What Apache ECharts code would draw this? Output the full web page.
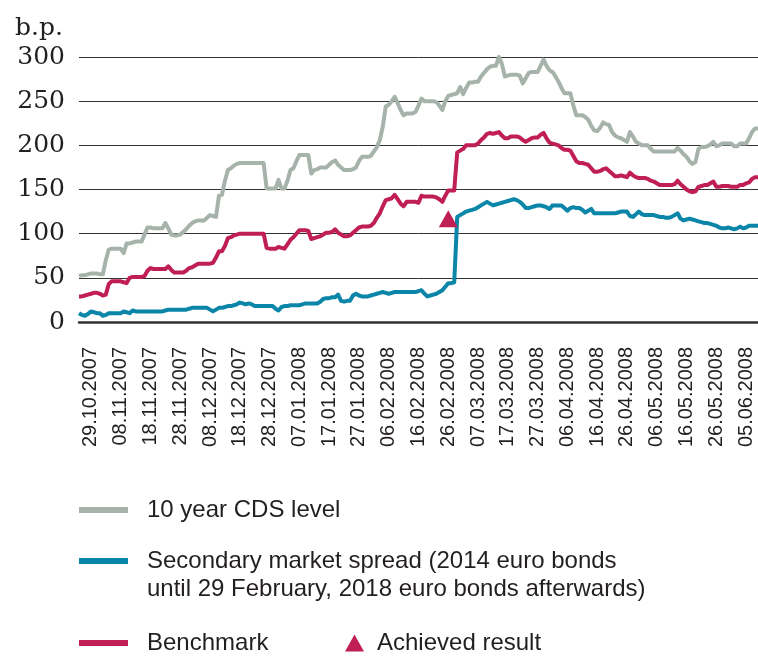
<!DOCTYPE html>
<html>
<head>
<meta charset="utf-8">
<script src="https://cdn.jsdelivr.net/npm/echarts@6/dist/echarts.min.js"></script>
<style>html,body{margin:0;padding:0;background:#fff}#c{width:758px;height:656px}</style>
</head>
<body>
<div id="c"></div>
<script>
// Daily categories from 25.10.2007 to 09.06.2008 (229 days)
const startDate = [2007, 9, 25];
const dayCount = 229;
const tickLabels = ['29.10.2007','08.11.2007','18.11.2007','28.11.2007','08.12.2007','18.12.2007','28.12.2007',
  '07.01.2008','17.01.2008','27.01.2008','06.02.2008','16.02.2008','26.02.2008','07.03.2008','17.03.2008',
  '27.03.2008','06.04.2008','16.04.2008','26.04.2008','06.05.2008','16.05.2008','26.05.2008','05.06.2008'];
const yTicks = [0, 50, 100, 150, 200, 250, 300];

const cdsLevel = [
  52,53,53,54,55,55,55,54,54,70,
  82,83,83,83,83,78,89,89,90,91,
  91,91,99,107,107,106,106,106,106,112,
  106,99,98,98,99,102,105,109,112,114,
  115,115,115,118,121,120,119,143,144,160,
  172,174,177,179,180,180,180,180,180,180,
  180,180,180,151,151,151,151,161,151,151,
  160,172,174,182,189,189,189,189,168,172,
  173,175,175,175,178,181,183,178,175,172,
  172,172,173,175,182,187,187,187,188,193,
  198,206,221,244,246,250,255,248,240,234,
  236,236,236,238,245,253,250,250,250,250,
  249,245,240,250,256,257,258,259,266,258,
  265,271,271,272,272,278,282,286,289,290,
  290,300,292,278,279,280,280,280,279,270,
  276,282,283,283,283,290,297,290,285,283,
  278,272,265,259,259,259,245,234,234,234,
  232,229,222,217,216,220,226,224,223,215,
  211,209,208,206,204,215,210,204,202,200,
  200,200,196,193,193,193,193,193,193,193,
  193,197,194,190,187,182,179,181,196,198,
  198,199,201,204,199,200,202,202,202,202,
  199,199,202,202,202,208,215,219,219
];
const benchmark = [
  29,29,30,31,32,33,33,32,30,31,
  43,46,46,46,46,45,44,50,51,51,
  51,51,52,58,61,60,60,60,60,60,
  63,59,56,56,56,56,58,61,62,64,
  66,66,66,66,66,67,73,80,80,86,
  95,96,98,99,100,100,100,100,100,100,
  100,100,100,84,83,83,83,85,84,83,
  88,93,96,100,104,104,104,103,94,95,
  96,97,99,101,101,102,105,101,99,97,
  97,98,101,104,107,108,108,108,109,112,
  118,123,131,138,139,140,144,139,134,131,
  136,136,136,136,135,143,142,142,142,142,
  141,139,136,143,149,149,149,192,194,196,
  200,200,200,200,202,206,209,213,214,213,
  214,215,211,208,208,210,210,210,209,206,
  204,206,208,209,209,212,214,208,203,202,
  201,200,197,195,195,194,188,182,180,180,
  179,178,174,170,170,171,173,174,171,168,
  165,165,166,165,164,169,166,164,163,163,
  163,162,160,159,157,155,155,155,155,155,
  156,160,156,153,150,148,147,148,153,154,
  155,155,157,159,153,153,154,154,154,153,
  153,153,155,155,157,158,162,164,164
];
const secondarySpread = [
  10,8,7,9,12,11,10,10,7,8,
  10,10,10,10,10,12,11,10,13,12,
  12,12,12,12,12,12,12,12,12,13,
  14,14,14,14,14,14,14,15,16,16,
  16,16,16,16,14,12,14,16,16,17,
  18,18,19,20,22,21,20,21,20,18,
  18,18,18,18,18,18,15,13,17,18,
  18,19,19,19,19,20,21,21,21,21,
  21,23,26,27,27,28,28,31,24,23,
  24,24,30,32,30,29,29,29,30,31,
  32,33,34,33,32,33,34,34,34,34,
  34,34,34,34,35,36,32,29,30,31,
  32,34,36,40,44,44,45,119,121,123,
  125,126,127,128,130,132,134,136,134,132,
  133,134,135,136,137,138,139,138,136,133,
  129,129,130,131,132,132,131,130,128,132,
  132,132,132,129,126,129,130,129,129,127,
  124,126,128,123,123,123,123,123,123,123,
  123,124,125,125,125,120,119,122,125,122,
  121,121,121,121,120,119,119,118,118,119,
  121,123,117,115,116,117,116,115,114,113,
  112,112,111,110,109,107,106,106,107,106,
  105,106,108,106,107,109,109,109,109
];
const achievedDate = '26.02.2008';
const achievedValue = 117;

const names = {
  cds: '10 year CDS level',
  sec: 'Secondary market spread',
  bench: 'Benchmark',
  ach: 'Achieved result'
};
const secLegendLines = ['Secondary market spread (2014 euro bonds', 'until 29 February, 2018 euro bonds afterwards)'];

function pad(n){ return (n < 10 ? '0' : '') + n; }
const categories = [];
const t0 = Date.UTC(startDate[0], startDate[1], startDate[2]);
for (let i = 0; i < dayCount; i++) {
  const d = new Date(t0 + i * 86400000);
  categories.push(pad(d.getUTCDate()) + '.' + pad(d.getUTCMonth() + 1) + '.' + d.getUTCFullYear());
}
const tickSet = new Set(tickLabels);

const colors = { cds: '#a6b3ab', sec: '#0b86a8', bench: '#c01f55' };
const txt = '#231f20';
const sans = 'Liberation Sans';
function legendText(extra) {
  return Object.assign({ fontFamily: sans, fontSize: 24, color: txt, lineHeight: 28 }, extra);
}

const chart = echarts.init(document.getElementById('c'), null, { renderer: 'canvas' });
chart.setOption({
  animation: false,
  backgroundColor: '#fff',
  title: {
    text: 'b.p.', left: 15, top: 16, padding: 0,
    textStyle: { fontFamily: 'DejaVu Serif', fontSize: 25, fontWeight: 'normal', color: txt }
  },
  grid: { left: 79, right: 0, top: 57, bottom: 334, outerBoundsMode: 'none', containLabel: false },
  xAxis: {
    type: 'category',
    data: categories,
    boundaryGap: false,
    axisTick: { show: false },
    axisLine: { show: true, lineStyle: { color: '#333', width: 2.5 } },
    splitLine: { show: false },
    axisLabel: {
      rotate: 90,
      margin: 25,
      interval: function (idx, val) { return tickSet.has(val); },
      fontFamily: sans, fontSize: 20, color: txt
    }
  },
  yAxis: {
    type: 'value',
    min: yTicks[0], max: yTicks[yTicks.length - 1], interval: 50,
    axisLine: { show: false },
    axisTick: { show: false },
    splitLine: { show: true, lineStyle: { color: '#333', width: 1 } },
    axisLabel: {
      margin: 14,
      fontFamily: 'DejaVu Serif', fontSize: 25, color: txt,
      padding: [4, 0, 0, 0]
    }
  },
  legend: [
    { selectedMode: false, left: 79, top: 496, padding: 0, itemWidth: 49, itemHeight: 6, icon: 'rect',
      data: [names.cds], textStyle: legendText({ padding: [0, 0, 0, 14] }) },
    { selectedMode: false, left: 79, top: 519, padding: 0, itemWidth: 49, itemHeight: 6, icon: 'rect',
      data: [names.sec], formatter: function () { return '\n' + secLegendLines.join('\n'); },
      textStyle: legendText({ padding: [0, 0, 0, 14] }) },
    { selectedMode: false, left: 79, top: 629, padding: 0, itemWidth: 49, itemHeight: 6, icon: 'rect',
      data: [names.bench], textStyle: legendText({ padding: [0, 0, 0, 14] }) },
    { selectedMode: false, left: 345, top: 629, padding: 0, itemWidth: 19, itemHeight: 17, icon: 'triangle',
      data: [names.ach], itemStyle: { opacity: 1 }, textStyle: legendText({ padding: [0, 0, 0, 8] }) }
  ],
  series: [
    { name: names.cds, type: 'line', data: cdsLevel, color: colors.cds, showSymbol: false, symbol: 'none',
      lineStyle: { width: 4, color: colors.cds, join: 'round' }, z: 2 },
    { name: names.bench, type: 'line', data: benchmark, color: colors.bench, showSymbol: false, symbol: 'none',
      lineStyle: { width: 4, color: colors.bench, join: 'round' }, z: 3 },
    { name: names.sec, type: 'line', data: secondarySpread, color: colors.sec, showSymbol: false, symbol: 'none',
      lineStyle: { width: 4, color: colors.sec, join: 'round' }, z: 4 },
    { name: names.ach, type: 'scatter', data: [[achievedDate, achievedValue]], color: colors.bench,
      symbol: 'triangle', symbolSize: [19, 17], itemStyle: { color: colors.bench, opacity: 1 }, z: 5 }
  ]
});
</script>
</body>
</html>
